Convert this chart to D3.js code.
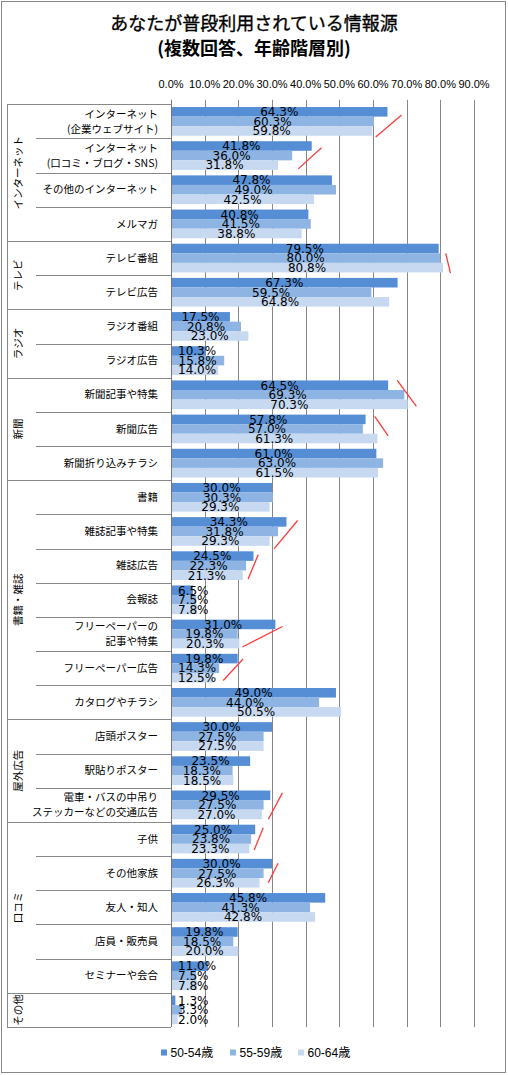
<!DOCTYPE html>
<html><head><meta charset="utf-8">
<script src="https://cdn.jsdelivr.net/npm/d3@7"></script>
<style>
html,body{margin:0;padding:0;background:#fff;}
svg{display:block;}
</style>
</head><body>
<svg id="chart" width="508" height="1075"></svg>
<script>
const titleLines = ["あなたが普段利用されている情報源", "(複数回答、年齢階層別)"];
const seriesNames = ["50-54歳", "55-59歳", "60-64歳"];
const seriesColors = ["#558ED5", "#8DB4E2", "#C6D9F1"];
const categories = [
  "インターネット\n(企業ウェブサイト)",
  "インターネット\n(口コミ・ブログ・SNS)",
  "その他のインターネット",
  "メルマガ",
  "テレビ番組",
  "テレビ広告",
  "ラジオ番組",
  "ラジオ広告",
  "新聞記事や特集",
  "新聞広告",
  "新聞折り込みチラシ",
  "書籍",
  "雑誌記事や特集",
  "雑誌広告",
  "会報誌",
  "フリーペーパーの\n記事や特集",
  "フリーペーパー広告",
  "カタログやチラシ",
  "店頭ポスター",
  "駅貼りポスター",
  "電車・バスの中吊り\nステッカーなどの交通広告",
  "子供",
  "その他家族",
  "友人・知人",
  "店員・販売員",
  "セミナーや会合",
  ""
];
const groupNames = ["インターネット", "テレビ", "ラジオ", "新聞", "書籍・雑誌", "屋外広告", "口コミ", "その他"];
const groupSizes = [4, 2, 2, 3, 7, 3, 5, 1];
const s5054 = [64.3, 41.8, 47.8, 40.8, 79.5, 67.3, 17.5, 10.3, 64.5, 57.8, 61.0, 30.0, 34.3, 24.5, 6.5, 31.0, 19.8, 49.0, 30.0, 23.5, 29.5, 25.0, 30.0, 45.8, 19.8, 11.0, 1.3];
const s5559 = [60.3, 36.0, 49.0, 41.5, 80.0, 59.5, 20.8, 15.8, 69.3, 57.0, 63.0, 30.3, 31.8, 22.3, 7.5, 19.8, 14.3, 44.0, 27.5, 18.3, 27.5, 23.8, 27.5, 41.3, 18.5, 7.5, 3.3];
const s6064 = [59.8, 31.8, 42.5, 38.8, 80.8, 64.8, 23.0, 14.0, 70.3, 61.3, 61.5, 29.3, 29.3, 21.3, 7.8, 20.3, 12.5, 50.5, 27.5, 18.5, 27.0, 23.3, 26.3, 42.8, 20.0, 7.8, 2.0];
const tickValues = [0, 10, 20, 30, 40, 50, 60, 70, 80, 90];
// red hand-drawn annotation strokes: category index, x from/to (%), position within row (fraction)
const markCat = [0, 1, 4, 8, 9, 12, 13, 15, 16, 20, 21, 22];
const markX1 = [60.8, 37.8, 81.6, 67.2, 60.5, 30.6, 22.9, 21.2, 15.5, 28.9, 24.7, 28.9];
const markX2 = [68.5, 44.7, 83.0, 72.9, 64.5, 37.6, 25.9, 33.1, 21.4, 33.1, 27.4, 31.8];
const markF1 = [0.96, 0.89, 0.36, 0.08, 0.13, 1.01, 0.89, 0.88, 0.86, 0.92, 0.82, 0.78];
const markF2 = [0.31, 0.27, 0.94, 0.84, 0.70, 0.18, 0.18, 0.28, 0.23, 0.15, 0.17, 0.21];

const series = [s5054, s5559, s6064];
const svg = d3.select("#chart");
const JP = "'Noto Sans CJK JP', sans-serif";
const NUM = "'DejaVu Sans', 'Noto Sans CJK JP', sans-serif";

// outer frame
svg.append("rect").attr("x", 1.5).attr("y", 1.5).attr("width", 504).attr("height", 1071)
  .attr("fill", "#fff").attr("stroke", "#888").attr("stroke-width", 1);

// title
svg.append("text").attr("x", 254).attr("y", 30).attr("text-anchor", "middle")
  .attr("font-family", JP).attr("font-size", 18).attr("font-weight", "normal")
  .attr("stroke", "#000").attr("stroke-width", 0.35).attr("fill", "#000").text(titleLines[0]);
svg.append("text").attr("x", 254).attr("y", 55).attr("text-anchor", "middle")
  .attr("font-family", JP).attr("font-size", 18).attr("font-weight", "bold").attr("fill", "#000").text(titleLines[1]);

const plotTop = 104.3, plotBottom = 1027, plotLeft = 171, plotRight = 474;
const x = d3.scaleLinear().domain([0, 90]).range([plotLeft, plotRight]);
const y = d3.scaleBand().domain(d3.range(categories.length)).range([plotTop, plotBottom])
  .paddingInner(0.16).paddingOuter(0.08);
const ys = d3.scaleBand().domain([0, 1, 2]).range([0, y.bandwidth()]);
const step = y.step();
const rowTop = i => plotTop + i * step;

// gridlines
svg.append("g").selectAll("line").data(tickValues).join("line")
  .attr("x1", d => Math.round(x(d)) + 0.5).attr("x2", d => Math.round(x(d)) + 0.5)
  .attr("y1", plotTop - 4.5).attr("y2", plotBottom)
  .attr("stroke", "#868686").attr("stroke-width", 1);

// top axis labels
svg.append("g").selectAll("text").data(tickValues).join("text")
  .attr("x", d => x(d)).attr("y", 88).attr("text-anchor", "middle")
  .attr("font-family", "'Liberation Sans', Arial, sans-serif").attr("font-size", 11).attr("fill", "#000")
  .text(d => d3.format(".1f")(d) + "%");

// bars
const gBars = svg.append("g");
series.forEach((s, k) => {
  gBars.append("g").selectAll("rect").data(s).join("rect")
    .attr("x", x(0)).attr("y", (d, i) => y(i) + ys(k))
    .attr("width", d => x(d) - x(0)).attr("height", ys.bandwidth())
    .attr("fill", seriesColors[k]);
});

// category axis structure
const gAxis = svg.append("g").attr("stroke", "#888").attr("stroke-width", 1);
gAxis.append("line").attr("x1", plotLeft + 0.5).attr("x2", plotLeft + 0.5)
  .attr("y1", plotTop - 4.5).attr("y2", plotBottom).attr("stroke", "#777");
gAxis.append("line").attr("x1", 7.5).attr("x2", 7.5).attr("y1", plotTop).attr("y2", plotBottom);
const groupStarts = [];
let acc = 0;
groupSizes.forEach(n => { groupStarts.push(acc); acc += n; });
const boundaries = d3.range(categories.length + 1);
gAxis.selectAll("line.div").data(boundaries).join("line").attr("class", "div")
  .attr("x1", i => (groupStarts.includes(i) || i === categories.length) ? 7 : 36)
  .attr("x2", plotLeft)
  .attr("y1", i => Math.round(rowTop(i)) + 0.5).attr("y2", i => Math.round(rowTop(i)) + 0.5);

// category labels
const gCat = svg.append("g").attr("font-family", JP).attr("font-size", 10.5).attr("fill", "#000");
categories.forEach((c, i) => {
  const lines = c.split("\n");
  const cy = rowTop(i) + step / 2;
  const t = gCat.append("text").attr("text-anchor", "end");
  lines.forEach((ln, j) => {
    t.append("tspan").attr("x", 158)
      .attr("y", cy + (j - (lines.length - 1) / 2) * 15)
      .attr("dy", "0.35em").text(ln);
  });
});

// group labels (rotated)
groupNames.forEach((g, k) => {
  const cy = rowTop(groupStarts[k]) + groupSizes[k] * step / 2;
  svg.append("text").attr("transform", `translate(18,${cy}) rotate(-90)`)
    .attr("text-anchor", "middle").attr("dy", "0.35em")
    .attr("font-family", JP).attr("font-size", 10.5).attr("fill", "#000").text(g);
});

// data labels
const gLab = svg.append("g").attr("font-family", NUM).attr("font-size", 12).attr("fill", "#000");
series.forEach((s, k) => {
  s.forEach((v, i) => {
    const t = gLab.append("text").attr("text-anchor", "middle")
      .attr("y", y(i) + ys(k) + ys.bandwidth() / 2).attr("dy", "0.36em")
      .text(d3.format(".1f")(v) + "%");
    const w = t.node().getComputedTextLength();
    const cx = Math.max((x(0) + x(v)) / 2, 178 + w / 2);
    t.attr("x", cx);
  });
});

// red annotation strokes
svg.append("g").selectAll("line").data(markCat).join("line")
  .attr("x1", (c, i) => x(markX1[i])).attr("x2", (c, i) => x(markX2[i]))
  .attr("y1", (c, i) => rowTop(c) + markF1[i] * step)
  .attr("y2", (c, i) => rowTop(c) + markF2[i] * step)
  .attr("stroke", "#FF3B3B").attr("stroke-width", 1.3);

// legend
const legX = [161, 230, 298];
const gLeg = svg.append("g");
seriesNames.forEach((n, k) => {
  gLeg.append("rect").attr("x", legX[k]).attr("y", 1049.5).attr("width", 6).attr("height", 6).attr("fill", seriesColors[k]);
  gLeg.append("text").attr("x", legX[k] + 9.5).attr("y", 1057)
    .attr("font-family", "'Liberation Sans', 'Noto Sans CJK JP', sans-serif").attr("font-size", 12).attr("fill", "#000").text(n);
});
</script>
</body></html>
